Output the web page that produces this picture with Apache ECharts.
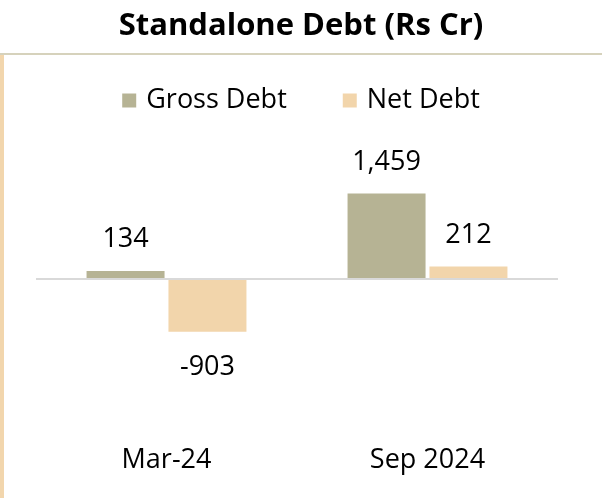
<!DOCTYPE html>
<html>
<head>
<meta charset="utf-8">
<script src="https://cdn.jsdelivr.net/npm/echarts@6/dist/echarts.min.js"></script>
<style>
html,body{margin:0;padding:0;background:#fff;}
#chart{width:602px;height:498px;}
</style>
</head>
<body>
<div id="chart"></div>
<script>
const categories = ['Mar-24', 'Sep 2024'];
const grossDebt = [134, 1459];
const netDebt = [-903, 212];
const seriesNames = ['Gross Debt', 'Net Debt'];
const titleText = 'Standalone Debt (Rs Cr)';

const FONT = '"Open Sans", "Noto Sans", sans-serif';
const fmt = p => Number(p.value).toLocaleString('en-US');
const toItems = arr => arr.map(v => ({
  value: v,
  label: v < 0 ? { position: 'bottom', distance: 22 } : { position: 'top', distance: 18 }
}));

const chart = echarts.init(document.getElementById('chart'), null, { renderer: 'canvas' });
chart.setOption({
  backgroundColor: '#ffffff',
  animation: false,
  textStyle: { fontFamily: FONT },
  title: {
    text: titleText,
    left: 'center',
    top: 6,
    textStyle: { fontFamily: FONT, fontSize: 31, fontWeight: 'bold', color: '#000' }
  },
  graphic: [
    { type: 'rect', shape: { x: 0, y: 53, width: 602, height: 2 }, style: { fill: '#d6d2bc' }, silent: true },
    { type: 'rect', shape: { x: 0, y: 55, width: 4, height: 443 }, style: { fill: '#f2d6ad' }, silent: true }
  ],
  legend: {
    data: seriesNames,
    left: 'center',
    top: 82,
    icon: 'rect',
    itemWidth: 14,
    itemHeight: 14,
    itemGap: 56,
    textStyle: { fontFamily: FONT, fontSize: 27, color: '#000', padding: [0, 0, 0, 5] }
  },
  grid: { left: 36, right: 44, top: 150, bottom: 58 },
  xAxis: {
    type: 'category',
    data: categories,
    axisLine: { show: false, onZero: false },
    axisTick: { show: false },
    axisLabel: { fontFamily: FONT, fontSize: 27, color: '#000', margin: 7 },
    splitLine: { show: false }
  },
  yAxis: {
    type: 'value',
    min: -2750,
    max: 2200,
    show: false,
    splitLine: { show: false }
  },
  series: [
    {
      name: seriesNames[0],
      type: 'bar',
      data: toItems(grossDebt),
      barWidth: 78,
      barGap: '5%',
      itemStyle: { color: '#b6b394' },
      label: { show: true, formatter: fmt, fontFamily: FONT, fontSize: 27, color: '#000' },
      markLine: {
        silent: true,
        symbol: 'none',
        label: { show: false },
        lineStyle: { color: '#d9d9d9', width: 2, type: 'solid' },
        data: [{ yAxis: 0 }]
      }
    },
    {
      name: seriesNames[1],
      type: 'bar',
      data: toItems(netDebt),
      barWidth: 78,
      barGap: '5%',
      itemStyle: { color: '#f2d5ab' },
      label: { show: true, formatter: fmt, fontFamily: FONT, fontSize: 27, color: '#000' }
    }
  ]
});
</script>
</body>
</html>
